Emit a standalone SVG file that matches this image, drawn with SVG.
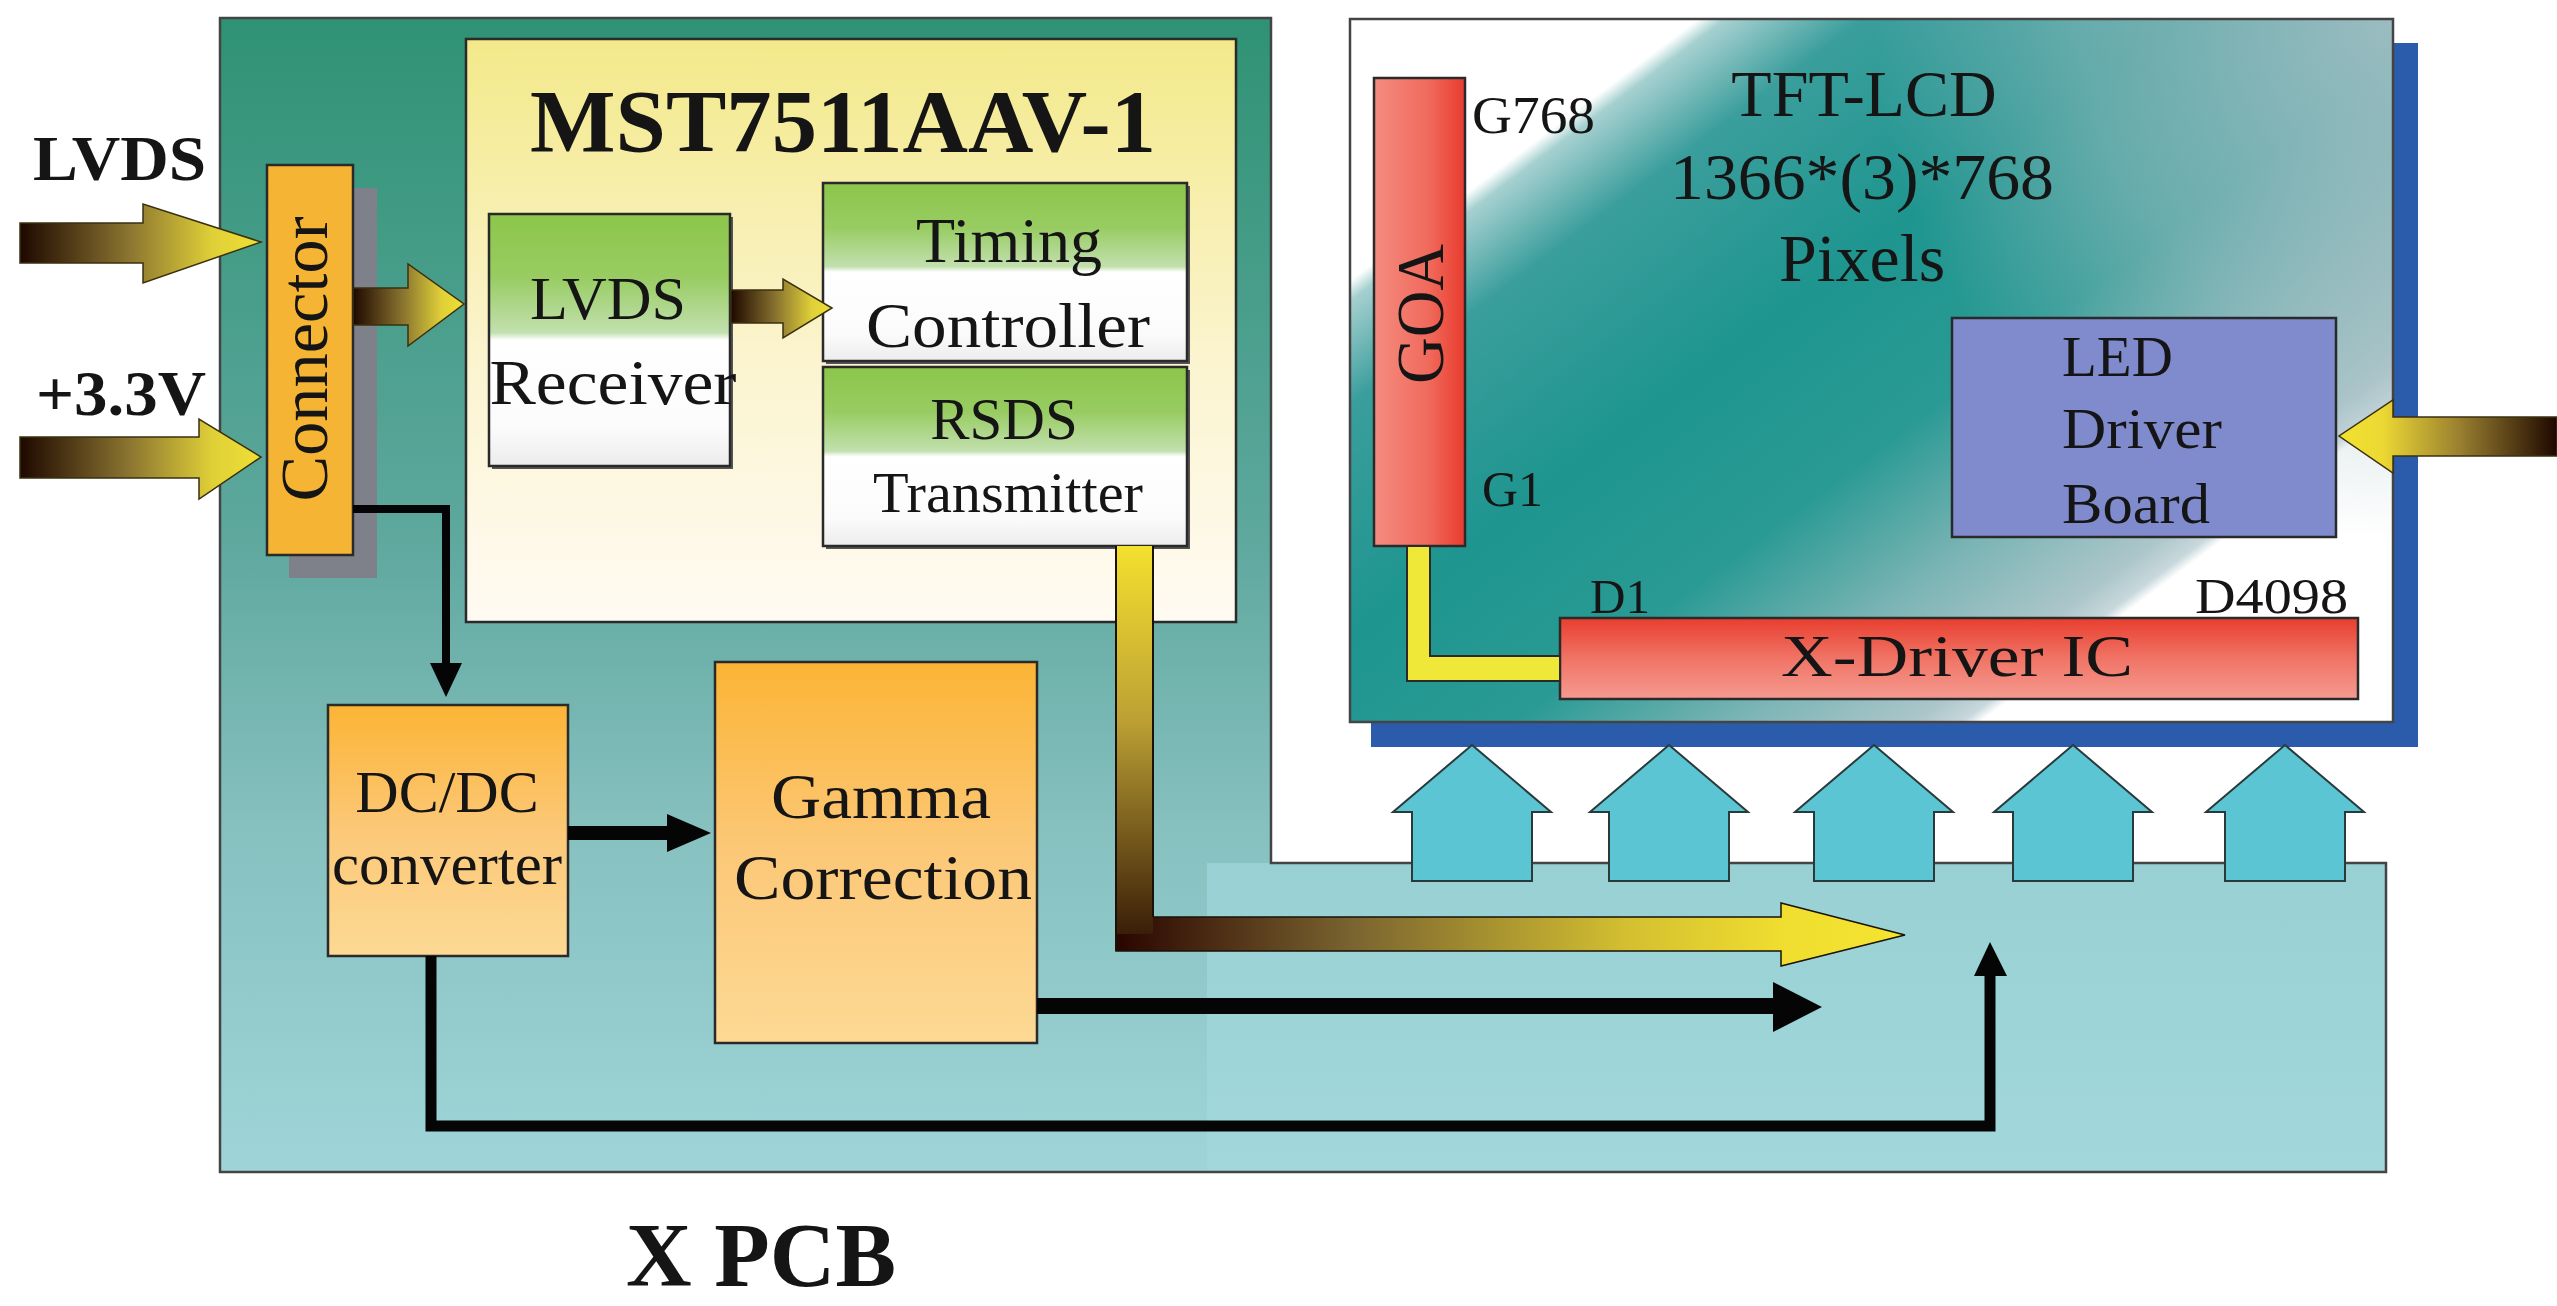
<svg xmlns="http://www.w3.org/2000/svg" xmlns:xlink="http://www.w3.org/1999/xlink" width="2557" height="1306" viewBox="0 0 2557 1306">
<style>
.t{font-family:"Liberation Serif","Times New Roman",serif;fill:#151515}
.b{font-weight:bold}
.mid{text-anchor:middle}
.box{stroke:#2a2a2a;stroke-width:2.5}
.ln{fill:none;stroke:#050505;stroke-linejoin:miter}
.hd{fill:#050505}
</style>
<defs>
<linearGradient id="pcb" x1="0" y1="0" x2="0" y2="1">
<stop offset="0" stop-color="#2f9274"/>
<stop offset="0.45" stop-color="#5ea89e"/>
<stop offset="0.7" stop-color="#86c0bf"/>
<stop offset="1" stop-color="#9fd5d8"/>
</linearGradient>
<linearGradient id="pcb2" x1="0" y1="0" x2="0" y2="1">
<stop offset="0" stop-color="#98d0d3"/>
<stop offset="1" stop-color="#a2d8dc"/>
</linearGradient>
<linearGradient id="mst" x1="0" y1="0" x2="0" y2="1">
<stop offset="0" stop-color="#f3e98a"/>
<stop offset="0.55" stop-color="#fbf4cf"/>
<stop offset="1" stop-color="#fffbf3"/>
</linearGradient>
<linearGradient id="grn" x1="0" y1="0" x2="0" y2="1">
<stop offset="0" stop-color="#8cc64a"/>
<stop offset="0.25" stop-color="#98cc62"/>
<stop offset="0.47" stop-color="#c2e0ae"/>
<stop offset="0.5" stop-color="#ffffff"/>
<stop offset="0.85" stop-color="#fbfbfb"/>
<stop offset="1" stop-color="#ececec"/>
</linearGradient>
<linearGradient id="org" x1="0" y1="0" x2="0" y2="1">
<stop offset="0" stop-color="#fbb435"/>
<stop offset="0.5" stop-color="#fcc878"/>
<stop offset="1" stop-color="#fcd994"/>
</linearGradient>
<linearGradient id="arR" x1="0" y1="0" x2="1" y2="0">
<stop offset="0" stop-color="#1e0800"/>
<stop offset="0.45" stop-color="#8a7430"/>
<stop offset="0.8" stop-color="#e0d038"/>
<stop offset="1" stop-color="#eee034"/>
</linearGradient>
<linearGradient id="arL" x1="1" y1="0" x2="0" y2="0">
<stop offset="0" stop-color="#1e0800"/>
<stop offset="0.45" stop-color="#9a8030"/>
<stop offset="0.8" stop-color="#ecd834"/>
<stop offset="1" stop-color="#f2e230"/>
</linearGradient>
<linearGradient id="rsV" x1="0" y1="0" x2="0" y2="1">
<stop offset="0" stop-color="#f4e02e"/>
<stop offset="0.45" stop-color="#bca034"/>
<stop offset="1" stop-color="#3a1e08"/>
</linearGradient>
<linearGradient id="rsH" x1="0" y1="0" x2="1" y2="0">
<stop offset="0" stop-color="#2a0500"/>
<stop offset="0.3" stop-color="#7a6430"/>
<stop offset="0.65" stop-color="#d4c030"/>
<stop offset="0.85" stop-color="#f0de30"/>
<stop offset="1" stop-color="#f4e430"/>
</linearGradient>
<linearGradient id="tft" gradientUnits="userSpaceOnUse" x1="1350" y1="19" x2="2010" y2="899">
<stop offset="0" stop-color="#ffffff"/>
<stop offset="0.19" stop-color="#ffffff"/>
<stop offset="0.205" stop-color="#a6d0d0"/>
<stop offset="0.28" stop-color="#3a9e9c"/>
<stop offset="0.45" stop-color="#1e958f"/>
<stop offset="0.6" stop-color="#2a9a94"/>
<stop offset="0.72" stop-color="#7ab4b4"/>
<stop offset="0.82" stop-color="#acc6ca"/>
<stop offset="0.845" stop-color="#c8d8dc"/>
<stop offset="0.855" stop-color="#ffffff"/>
<stop offset="1" stop-color="#ffffff"/>
</linearGradient>
<radialGradient id="tr" gradientUnits="userSpaceOnUse" cx="2393" cy="19" r="520">
<stop offset="0" stop-color="#a8c0c6" stop-opacity="0.9"/>
<stop offset="0.6" stop-color="#a8c0c6" stop-opacity="0.5"/>
<stop offset="1" stop-color="#a8c0c6" stop-opacity="0"/>
</radialGradient>
<linearGradient id="goa" x1="0" y1="0" x2="1" y2="0">
<stop offset="0" stop-color="#f48c80"/>
<stop offset="0.6" stop-color="#f06a5c"/>
<stop offset="1" stop-color="#e83c2e"/>
</linearGradient>
<linearGradient id="xdr" x1="0" y1="0" x2="0" y2="1">
<stop offset="0" stop-color="#e83e2e"/>
<stop offset="0.5" stop-color="#f07466"/>
<stop offset="1" stop-color="#f59a90"/>
</linearGradient>
<path id="up" d="M0,745 L79,812 H60 V881 H-60 V812 H-79 Z" fill="#5bc5d3" stroke="#2a3a3a" stroke-width="2"/>
</defs>

<rect width="2557" height="1306" fill="#ffffff"/>

<g id="xpcb">
<polygon points="220,18 1271,18 1271,863 2386,863 2386,1172 220,1172" fill="url(#pcb)"/>
<rect x="1207" y="863" width="1179" height="309" fill="url(#pcb2)"/>
<polygon points="220,18 1271,18 1271,863 2386,863 2386,1172 220,1172" fill="none" stroke="#444" stroke-width="2.5"/>
<text class="t b mid" x="761" y="1286" font-size="90" textLength="270" lengthAdjust="spacingAndGlyphs">X PCB</text>
</g>

<g id="connector">
<rect x="289" y="188" width="88" height="390" fill="#7e8189"/>
<rect x="267" y="165" width="86" height="390" fill="#f6b434" class="box"/>
<text class="t mid" transform="translate(327,359) rotate(-90)" font-size="68" textLength="285" lengthAdjust="spacingAndGlyphs">Connector</text>
</g>

<g id="mst7511">
<rect x="466" y="39" width="770" height="583" fill="url(#mst)" class="box"/>
<text class="t b mid" x="843" y="151" font-size="88" textLength="626" lengthAdjust="spacingAndGlyphs">MST7511AAV-1</text>
</g>

<g id="lvds-receiver">
<rect x="492" y="217" width="241" height="252" fill="#555"/>
<rect x="489" y="214" width="241" height="252" fill="url(#grn)" class="box"/>
<text class="t mid" x="608" y="319" font-size="62">LVDS</text>
<text class="t mid" x="613" y="404" font-size="64" textLength="247" lengthAdjust="spacingAndGlyphs">Receiver</text>
</g>

<g id="timing-controller">
<rect x="826" y="186" width="364" height="178" fill="#555"/>
<rect x="823" y="183" width="364" height="178" fill="url(#grn)" class="box"/>
<text class="t mid" x="1009" y="262" font-size="64">Timing</text>
<text class="t mid" x="1008" y="347" font-size="64" textLength="284" lengthAdjust="spacingAndGlyphs">Controller</text>
</g>

<g id="rsds-transmitter">
<rect x="826" y="370" width="364" height="179" fill="#555"/>
<rect x="823" y="367" width="364" height="179" fill="url(#grn)" class="box"/>
<text class="t mid" x="1004" y="439" font-size="59">RSDS</text>
<text class="t mid" x="1008" y="512" font-size="58" textLength="270" lengthAdjust="spacingAndGlyphs">Transmitter</text>
</g>

<g id="dcdc-converter">
<rect x="328" y="705" width="240" height="251" fill="url(#org)" class="box"/>
<text class="t mid" x="447" y="812" font-size="60">DC/DC</text>
<text class="t mid" x="447" y="884" font-size="60" textLength="230" lengthAdjust="spacingAndGlyphs">converter</text>
</g>

<g id="gamma-correction">
<rect x="715" y="662" width="322" height="381" fill="url(#org)" class="box"/>
<text class="t mid" x="881" y="818" font-size="64" textLength="220" lengthAdjust="spacingAndGlyphs">Gamma</text>
<text class="t mid" x="883" y="899" font-size="64" textLength="298" lengthAdjust="spacingAndGlyphs">Correction</text>
</g>

<g id="tft-lcd">
<rect x="1371" y="43" width="1047" height="704" fill="#2b5bab"/>
<rect x="1350" y="19" width="1043" height="703" fill="url(#tft)"/>
<rect x="1350" y="19" width="1043" height="703" fill="url(#tr)"/>
<rect x="1350" y="19" width="1043" height="703" fill="none" stroke="#444" stroke-width="2.5"/>
<text class="t mid" x="1864" y="116" font-size="66">TFT-LCD</text>
<text class="t mid" x="1862" y="199" font-size="66" textLength="384" lengthAdjust="spacingAndGlyphs">1366*(3)*768</text>
<text class="t mid" x="1862" y="281" font-size="68">Pixels</text>
</g>

<g id="goa">
<rect x="1374" y="78" width="91" height="468" fill="url(#goa)" class="box"/>
<text class="t mid" transform="translate(1443,314) rotate(-90)" font-size="68" textLength="140" lengthAdjust="spacingAndGlyphs">GOA</text>
<text class="t" x="1472" y="133" font-size="52" textLength="123" lengthAdjust="spacingAndGlyphs">G768</text>
<text class="t" x="1482" y="506" font-size="50" textLength="61" lengthAdjust="spacingAndGlyphs">G1</text>
</g>

<g id="x-driver-ic">
<rect x="1560" y="618" width="798" height="81" fill="url(#xdr)" class="box"/>
<text class="t mid" x="1957" y="676" font-size="60" textLength="352" lengthAdjust="spacingAndGlyphs">X-Driver  IC</text>
<text class="t" x="1590" y="613" font-size="48" textLength="60" lengthAdjust="spacingAndGlyphs">D1</text>
<text class="t" x="2195" y="613" font-size="50" textLength="153" lengthAdjust="spacingAndGlyphs">D4098</text>
</g>

<g id="led-driver-board">
<rect x="1952" y="318" width="384" height="219" fill="#7f8bcc" class="box"/>
<text class="t" x="2062" y="376" font-size="57">LED</text>
<text class="t" x="2062" y="448" font-size="57" textLength="160" lengthAdjust="spacingAndGlyphs">Driver</text>
<text class="t" x="2062" y="523" font-size="57" textLength="148" lengthAdjust="spacingAndGlyphs">Board</text>
</g>

<g id="lvds-input-label">
<text class="t b" x="33" y="180" font-size="64" textLength="173" lengthAdjust="spacingAndGlyphs">LVDS</text>
</g>
<g id="v33-input-label">
<text class="t b" x="36" y="415" font-size="64" textLength="170" lengthAdjust="spacingAndGlyphs">+3.3V</text>
</g>

<g id="connectors">
<path d="M20,223 H143 V204 L261,242 L143,283 V263 H20 Z" fill="url(#arR)" stroke="#3a3010" stroke-width="1.5"/>
<path d="M20,437 H199 V419 L261,457 L199,499 V478 H20 Z" fill="url(#arR)" stroke="#3a3010" stroke-width="1.5"/>
<path d="M353,288 H408 V264 L464,304 L408,346 V325 H353 Z" fill="url(#arR)" stroke="#3a3010" stroke-width="1.5"/>
<path d="M731,290 H783 V279 L832,308 L783,338 V323 H731 Z" fill="url(#arR)" stroke="#3a3010" stroke-width="1.5"/>
<path d="M2557,417 H2393 V400 L2339,436 L2393,473 V456 H2557 Z" fill="url(#arL)" stroke="#3a3010" stroke-width="1.5"/>
<path d="M1116,917 H1781 V903 L1905,935 L1781,966 V951 H1116 Z" fill="url(#rsH)" stroke="#1a1208" stroke-width="1.5"/>
<rect x="1116" y="546" width="37" height="388" fill="url(#rsV)"/>
<path d="M1116,546 V951 M1153,546 V917" stroke="#1a1208" stroke-width="2" fill="none"/>
<polygon points="1407,546 1430,546 1430,656 1560,656 1560,681 1407,681" fill="#f0e838" stroke="#2a2a2a" stroke-width="2"/>
<path class="ln" d="M353,509 H446 V665" stroke-width="8"/>
<polygon class="hd" points="430,663 462,663 446,697"/>
<path class="ln" d="M568,833 H670" stroke-width="14"/>
<polygon class="hd" points="667,814 667,852 711,833"/>
<path class="ln" d="M1037,1006 H1776" stroke-width="16"/>
<polygon class="hd" points="1773,982 1773,1032 1822,1007"/>
<path class="ln" d="M431,956 V1126 H1990 V972" stroke-width="11"/>
<polygon class="hd" points="1974,976 2007,976 1990,942"/>
<use xlink:href="#up" href="#up" x="1472" y="0"/>
<use xlink:href="#up" href="#up" x="1669" y="0"/>
<use xlink:href="#up" href="#up" x="1874" y="0"/>
<use xlink:href="#up" href="#up" x="2073" y="0"/>
<use xlink:href="#up" href="#up" x="2285" y="0"/>
</g>
</svg>
